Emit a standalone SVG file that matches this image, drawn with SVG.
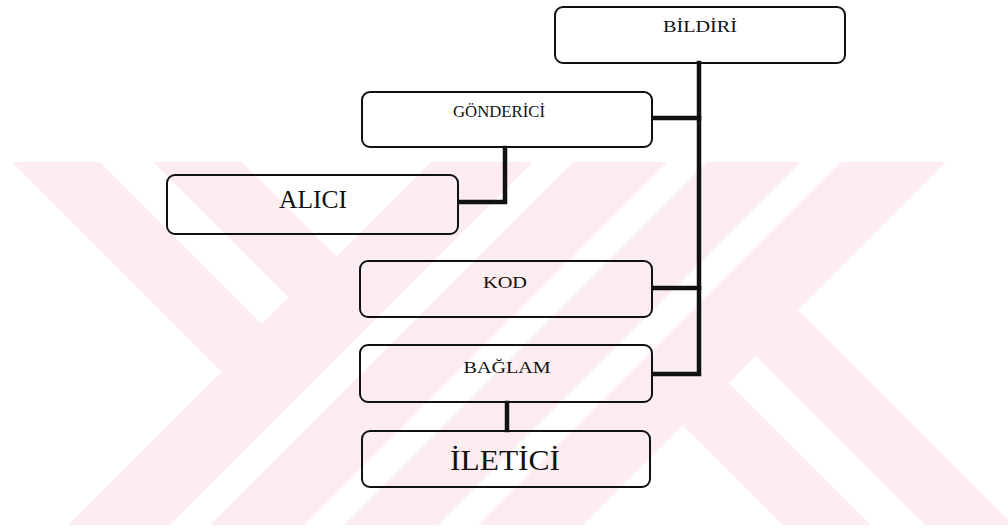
<svg xmlns="http://www.w3.org/2000/svg" width="1008" height="529" viewBox="0 0 1008 529">
<style>
.wm{fill:#fdedf0;stroke:none}
.wh{fill:#ffffff;stroke:none}
.box{fill:none;stroke:#111;stroke-width:2}
.con{fill:none;stroke:#111;stroke-width:4.5;stroke-linejoin:miter;stroke-linecap:square}
.t{font-family:"Liberation Serif","Times New Roman",serif;fill:#111;text-anchor:middle}
.s{font-size:17px}
</style>
<defs>
<clipPath id="wmclip"><rect x="0" y="162" width="1008" height="363"/></clipPath>
</defs>
<rect width="1008" height="529" fill="#ffffff"/>
<g id="watermark" clip-path="url(#wmclip)">
<polygon class="wm" points="12,162 242,162 336.5,256.5 221.5,371.5"/>
<polygon class="wm" points="431,162 946,162 583,525 68,525"/>
<polygon class="wm" points="798,310 683,425 800,542 1030,542"/>
<polygon class="wh" points="100,162 153,162 288.5,297.5 262,324"/>
<polygon class="wh" points="756,356 925,525 871,525 729,383"/>
<polygon class="wh" points="533,162 573,162 210,525 170,525"/>
<polygon class="wh" points="667,162 707,162 344,525 304,525"/>
<polygon class="wh" points="801,162 841,162 478,525 438,525"/>
</g>
<g id="connectors">
<polyline class="con" points="699,63 699,374 654,374"/>
<line class="con" x1="654" y1="118" x2="699" y2="118"/>
<line class="con" x1="654" y1="288" x2="699" y2="288"/>
<polyline class="con" points="505,148 505,202 460,202"/>
<line class="con" x1="507" y1="403" x2="507" y2="430"/>
</g>
<g id="bildiri">
<rect class="box" x="555" y="7" width="290" height="56" rx="8"/>
<text class="t s" x="700" y="32" textLength="74" lengthAdjust="spacingAndGlyphs">BİLDİRİ</text>
</g>
<g id="gonderici">
<rect class="box" x="362" y="92" width="290" height="55" rx="8"/>
<text class="t s" x="499" y="117" textLength="92" lengthAdjust="spacingAndGlyphs">GÖNDERİCİ</text>
</g>
<g id="alici">
<rect class="box" x="167" y="175" width="291" height="59" rx="8"/>
<text class="t" x="313" y="208" font-size="25" textLength="68" lengthAdjust="spacingAndGlyphs">ALICI</text>
</g>
<g id="kod">
<rect class="box" x="360" y="261" width="292" height="56" rx="8"/>
<text class="t s" x="505" y="288" textLength="44" lengthAdjust="spacingAndGlyphs">KOD</text>
</g>
<g id="baglam">
<rect class="box" x="360" y="345" width="292" height="57" rx="8"/>
<text class="t s" x="507" y="373" textLength="87" lengthAdjust="spacingAndGlyphs">BAĞLAM</text>
</g>
<g id="iletici">
<rect class="box" x="362" y="431" width="288" height="56" rx="8"/>
<text class="t" x="505" y="470" font-size="30" textLength="110" lengthAdjust="spacingAndGlyphs">İLETİCİ</text>
</g>
</svg>
